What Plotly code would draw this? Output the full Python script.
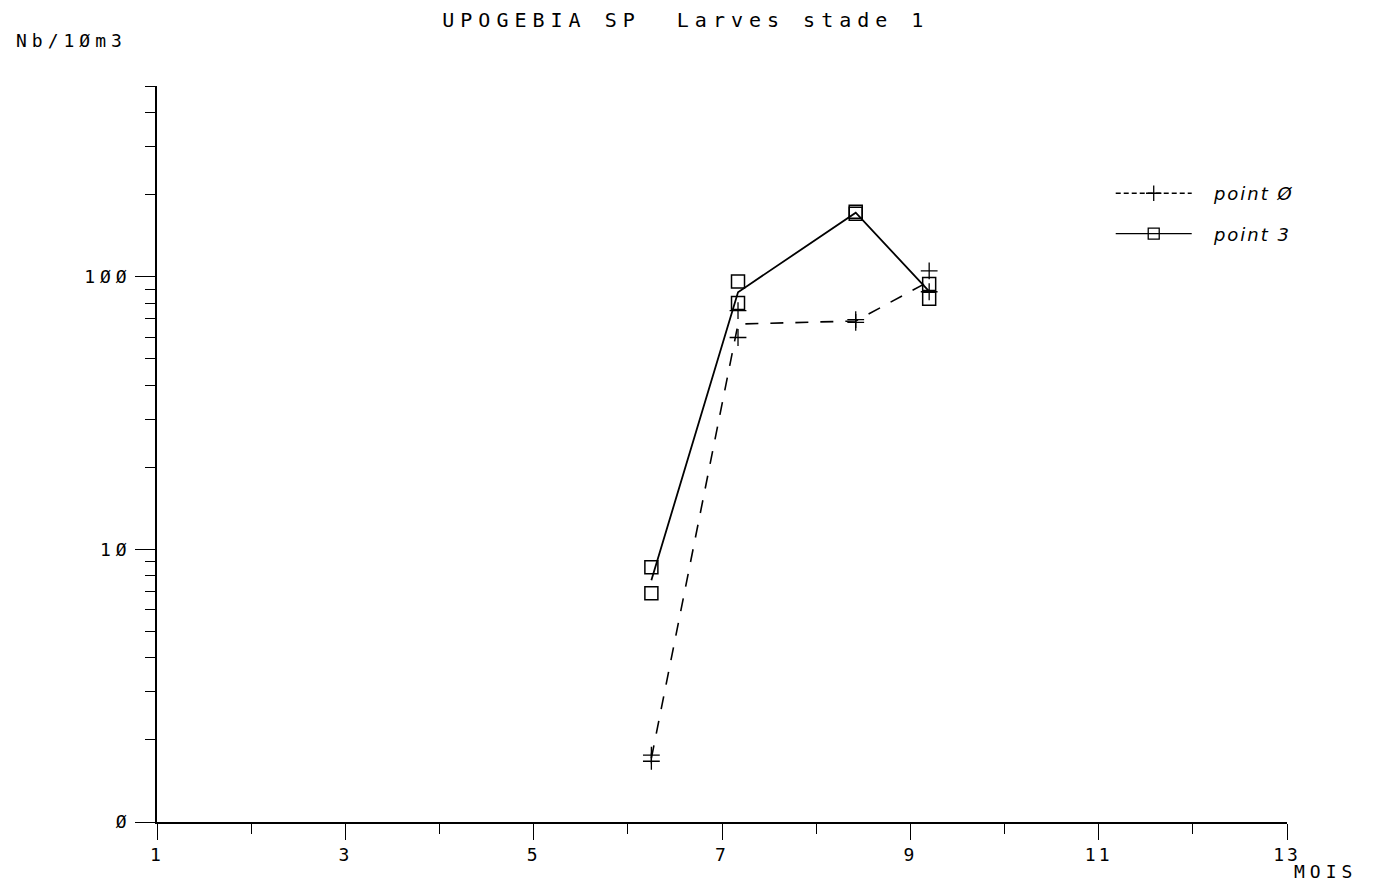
import numpy as np
import plotly.graph_objects as go

# ---- data ----
mois = [6.25, 7.17, 8.42, 9.2]
point0_a = [1.76, 59.8, 69.6, 105.0]
point0_b = [1.67, 75.0, 67.9, 88.0]
point3_a = [8.6, 96.0, 173.0, 94.0]
point3_b = [6.9, 80.0, 170.0, 83.0]

x_ticks = [1, 3, 5, 7, 9, 11, 13]
x_minor = [2, 4, 6, 8, 10, 12]
y_ticks = [1, 10, 100]
y_ticktext = ["Ø", "1Ø", "1ØØ"]
y_minor = [2, 3, 4, 5, 6, 7, 8, 9, 20, 30, 40, 50, 60, 70, 80, 90, 200, 300, 400, 500]

FONT = "DejaVu Sans Mono"


def spaced(t, ls=5):
    return f'<span style="letter-spacing:{ls}px">{t}</span>'


gm0 = np.sqrt(np.array(point0_a) * np.array(point0_b))
gm3 = np.sqrt(np.array(point3_a) * np.array(point3_b))

fig = go.Figure()

# point 0 : dashed line + crosses
fig.add_trace(go.Scatter(x=mois, y=gm0, mode="lines", showlegend=False,
                         line=dict(color="black", width=1.6, dash="13px,12px")))
fig.add_trace(go.Scatter(x=mois + mois, y=point0_a + point0_b, mode="markers", showlegend=False,
                         marker=dict(symbol="cross-thin", size=12, line=dict(color="black", width=1.3))))
# point 3 : solid line + open squares
fig.add_trace(go.Scatter(x=mois, y=gm3, mode="lines", showlegend=False,
                         line=dict(color="black", width=1.8)))
fig.add_trace(go.Scatter(x=mois + mois, y=point3_a + point3_b, mode="markers", showlegend=False,
                         marker=dict(symbol="square-open", size=13, color="black", line=dict(width=1.5))))

# legend entries
fig.add_trace(go.Scatter(x=[None], y=[None], mode="lines+markers",
                         name="&nbsp;&nbsp;&nbsp;" + spaced("<i>point Ø</i>", 2),
                         legendgroup="a",
                         line=dict(color="black", width=1.3, dash="5px,3px"),
                         marker=dict(symbol="cross-thin", size=11, line=dict(color="black", width=1.3))))
fig.add_trace(go.Scatter(x=[None], y=[None], mode="lines+markers",
                         name="&nbsp;&nbsp;&nbsp;" + spaced("<i>point 3</i>", 2),
                         legendgroup="b",
                         line=dict(color="black", width=1.3),
                         marker=dict(symbol="square-open", size=11, color="black", line=dict(width=1.3))))

fig.update_layout(
    width=1371, height=879,
    margin=dict(l=149, r=92, t=78, b=65),
    paper_bgcolor="white", plot_bgcolor="white",
    font=dict(family=FONT, size=16, color="black"),
    title=dict(text=spaced("UPOGEBIA SP  Larves stade 1", 6), xref="paper", x=0.468, xanchor="center",
               y=1 - 12 / 879, yanchor="middle", font=dict(family=FONT, size=20, color="black")),
    legend=dict(x=0.844, y=0.879, xanchor="left", yanchor="top", bgcolor="rgba(0,0,0,0)",
                font=dict(family="DejaVu Sans", size=18, color="black"), tracegroupgap=14,
                itemwidth=76),
    xaxis=dict(range=[1, 13], showgrid=False, zeroline=False, showline=True, linecolor="black",
               linewidth=1.5, tickmode="array", tickvals=x_ticks,
               ticktext=[spaced(str(v), 3) for v in x_ticks],
               ticks="outside", ticklen=16, tickwidth=1.3, tickcolor="black",
               tickfont=dict(family=FONT, size=18),
               minor=dict(tickvals=x_minor, ticks="outside", ticklen=10, tickwidth=1.2, tickcolor="black")),
    yaxis=dict(type="log", range=[0, np.log10(500)], showgrid=False, zeroline=False, showline=True,
               linecolor="black", linewidth=1.5, tickmode="array", tickvals=y_ticks,
               ticktext=[spaced(t, 5) for t in y_ticktext],
               ticks="outside", ticklen=20, tickwidth=1.3, tickcolor="black",
               tickfont=dict(family=FONT, size=18),
               minor=dict(tickvals=y_minor, ticks="outside", ticklen=10, tickwidth=1.2, tickcolor="black")),
    annotations=[
        dict(text=spaced("Nb/1Øm3", 5), xref="paper", yref="paper", x=-0.076, y=1 + (86 - 40) / 736,
             xanchor="center", yanchor="middle", showarrow=False, font=dict(family=FONT, size=18)),
        dict(text=spaced("MOIS", 5), xref="paper", yref="paper", x=(1325 - 157) / 1130, y=-(872 - 822) / 736,
             xanchor="center", yanchor="middle", showarrow=False, font=dict(family=FONT, size=18)),
    ],
)

fig.write_html("out.html")
